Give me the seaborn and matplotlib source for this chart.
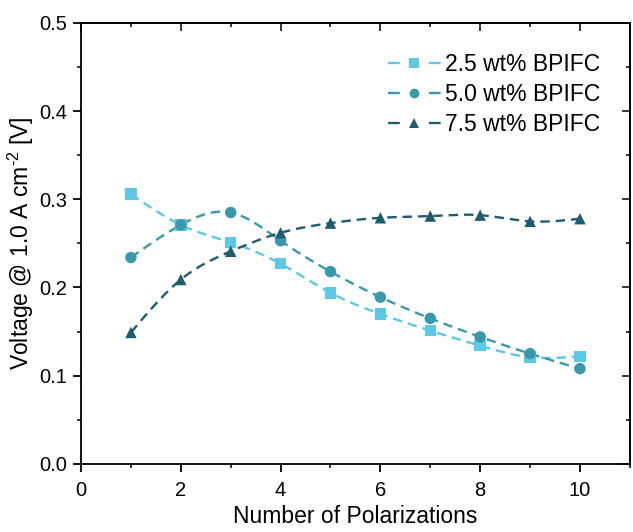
import numpy as np
import pandas as pd
import matplotlib
matplotlib.use("Agg")
import matplotlib.pyplot as plt
from matplotlib.lines import Line2D
from matplotlib.ticker import MultipleLocator, FormatStrFormatter
import seaborn as sns

# Voltage at 1.0 A/cm2 versus polarization count, for three BPIFC loadings
polarizations = [1, 2, 3, 4, 5, 6, 7, 8, 9, 10]
series_names = ["2.5 wt% BPIFC", "5.0 wt% BPIFC", "7.5 wt% BPIFC"]
v_2p5 = [0.306, 0.271, 0.251, 0.227, 0.194, 0.170, 0.151, 0.134, 0.121, 0.122]
v_5p0 = [0.234, 0.271, 0.285, 0.253, 0.218, 0.189, 0.165, 0.144, 0.125, 0.108]
v_7p5 = [0.149, 0.209, 0.241, 0.262, 0.273, 0.279, 0.281, 0.282, 0.275, 0.278]

colors = {"2.5 wt% BPIFC": "#5cc8e4",
          "5.0 wt% BPIFC": "#3a98ac",
          "7.5 wt% BPIFC": "#1e5d71"}
markers = {"2.5 wt% BPIFC": "s", "5.0 wt% BPIFC": "o", "7.5 wt% BPIFC": "^"}

df = pd.DataFrame({
    "Number of Polarizations": polarizations * 3,
    "Voltage": v_2p5 + v_5p0 + v_7p5,
    "Series": [s for s in series_names for _ in polarizations],
})

sns.set_theme(style="ticks")
plt.rcParams["font.family"] = ["Liberation Sans", "DejaVu Sans"]
plt.rcParams["text.color"] = "black"
plt.rcParams["mathtext.fontset"] = "custom"
plt.rcParams["mathtext.rm"] = "Liberation Sans"
plt.rcParams["mathtext.it"] = "Liberation Sans:italic"


def natural_spline(x, y, n=400):
    """Natural cubic spline through (x, y) for a smooth connector line."""
    x = np.asarray(x, float)
    y = np.asarray(y, float)
    k = len(x)
    h = np.diff(x)
    A = np.zeros((k, k))
    b = np.zeros(k)
    A[0, 0] = A[-1, -1] = 1.0
    for i in range(1, k - 1):
        A[i, i - 1] = h[i - 1]
        A[i, i] = 2 * (h[i - 1] + h[i])
        A[i, i + 1] = h[i]
        b[i] = 3 * ((y[i + 1] - y[i]) / h[i] - (y[i] - y[i - 1]) / h[i - 1])
    c = np.linalg.solve(A, b)
    xs = np.linspace(x[0], x[-1], n)
    idx = np.clip(np.searchsorted(x, xs) - 1, 0, k - 2)
    dx = xs - x[idx]
    bi = (y[idx + 1] - y[idx]) / h[idx] - h[idx] * (2 * c[idx] + c[idx + 1]) / 3
    di = (c[idx + 1] - c[idx]) / (3 * h[idx])
    ys = y[idx] + bi * dx + c[idx] * dx ** 2 + di * dx ** 3
    return xs, ys


fig = plt.figure(figsize=(6.33, 5.32), dpi=100)
ax = fig.add_axes([0.128, 0.128, 0.867, 0.829])

lw = 1.7
dash = (4.0, 2.5)
for name, vals in zip(series_names, [v_2p5, v_5p0, v_7p5]):
    xs, ys = natural_spline(polarizations, vals)
    ax.plot(xs, ys, color=colors[name], lw=lw, dashes=dash, zorder=2)

sns.scatterplot(data=df, x="Number of Polarizations", y="Voltage",
                hue="Series", style="Series", palette=colors, markers=markers,
                s=68, edgecolor="none", legend=False, ax=ax, zorder=3)

ax.set_xlim(0, 11)
ax.set_ylim(0, 0.5)
ax.xaxis.set_major_locator(MultipleLocator(2))
ax.xaxis.set_minor_locator(MultipleLocator(1))
ax.yaxis.set_major_locator(MultipleLocator(0.1))
ax.yaxis.set_minor_locator(MultipleLocator(0.05))
ax.yaxis.set_major_formatter(FormatStrFormatter("%.1f"))

for s in ax.spines.values():
    s.set_linewidth(1.3)
    s.set_color("black")

ax.tick_params(which="major", direction="out", length=6, width=1.3,
               labelsize=14.5, colors="black")
ax.tick_params(axis="x", which="major", pad=6)
ax.tick_params(axis="y", which="major", pad=4)
ax.tick_params(which="minor", direction="out", length=3, width=1.3)

# mirrored inward ticks on the top and right edges
ax_top = ax.secondary_xaxis("top")
ax_top.xaxis.set_major_locator(MultipleLocator(2))
ax_top.xaxis.set_minor_locator(MultipleLocator(1))
ax_top.tick_params(which="major", direction="in", length=6, width=1.3, labeltop=False)
ax_top.tick_params(which="minor", direction="in", length=3, width=1.3)
ax_top.spines["top"].set_linewidth(1.3)
ax_right = ax.secondary_yaxis("right")
ax_right.yaxis.set_major_locator(MultipleLocator(0.1))
ax_right.yaxis.set_minor_locator(MultipleLocator(0.05))
ax_right.tick_params(which="major", direction="in", length=6, width=1.3, labelright=False)
ax_right.tick_params(which="minor", direction="in", length=3, width=1.3)
ax_right.spines["right"].set_linewidth(1.3)

ax.set_xlabel("Number of Polarizations", fontsize=16.5, color="black", labelpad=4)
ax.set_ylabel(r"Voltage @ 1.0 A cm$^{\text{-2}}$ [V]", fontsize=16.5,
              color="black", labelpad=2)

# legend keys: dash, gap holding the marker, dash
handles = [Line2D([0], [0], color=colors[n], lw=lw, dashes=(5.0, 12.3),
                  marker=markers[n], markersize=7, markeredgewidth=0)
           for n in series_names]
ax.legend(handles, series_names, loc="upper right", bbox_to_anchor=(0.975, 0.967),
          frameon=False, fontsize=16.5, handlelength=2.35, handletextpad=0.15,
          labelspacing=0.3, borderaxespad=0.3, labelcolor="black")

fig.savefig("out.png", dpi=100)
